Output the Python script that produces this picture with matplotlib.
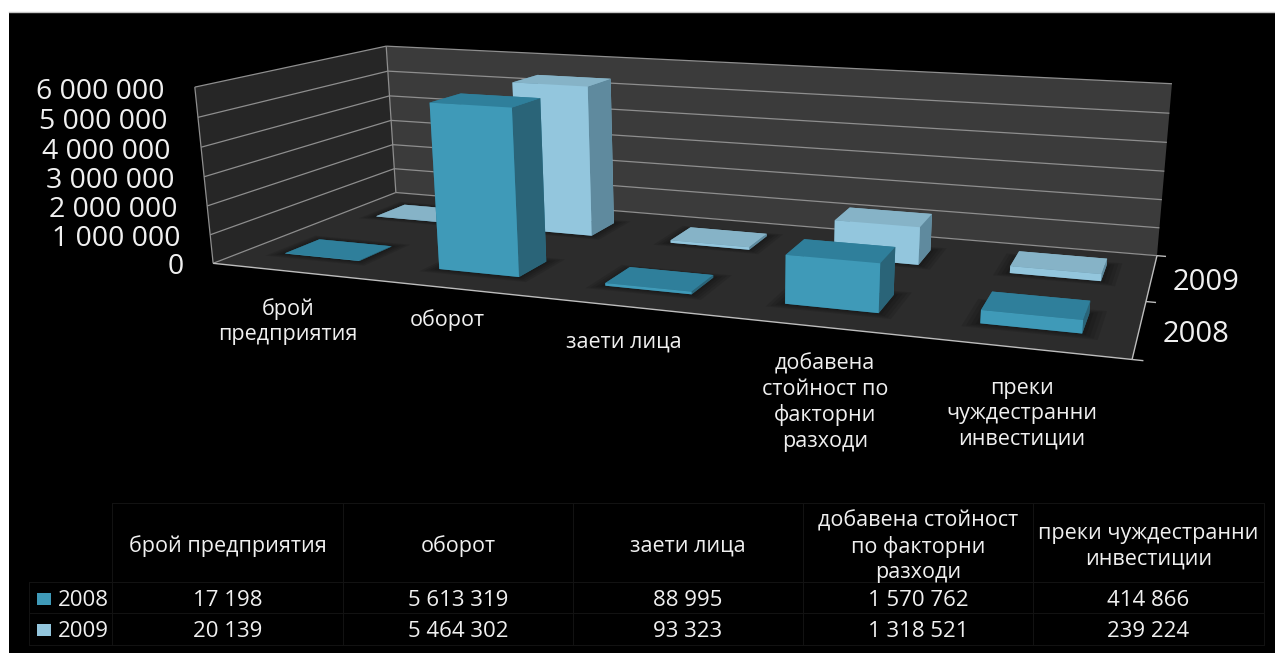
import numpy as np
import matplotlib
matplotlib.use("Agg")
import matplotlib.pyplot as plt
from mpl_toolkits.mplot3d import Axes3D  # noqa
from mpl_toolkits.mplot3d.art3d import Poly3DCollection, Line3DCollection

# ---------- data ----------
categories = ["брой предприятия", "оборот", "заети лица",
              "добавена стойност по факторни разходи", "преки чуждестранни инвестиции"]
axis_labels = ["брой\nпредприятия", "оборот", "заети лица",
               "добавена\nстойност по\nфакторни\nразходи", "преки\nчуждестранни\nинвестиции"]
table_headers = ["брой предприятия", "оборот", "заети лица",
                 "добавена стойност\nпо факторни\nразходи", "преки чуждестранни\nинвестиции"]
series_names = ["2008", "2009"]
values_2008 = [17198, 5613319, 88995, 1570762, 414866]
values_2009 = [20139, 5464302, 93323, 1318521, 239224]
z_ticks = [0, 1000000, 2000000, 3000000, 4000000, 5000000, 6000000]
Z_MAX = 6000000

W, H = 1275, 653
FONT = "Open Sans"
plt.rcParams["font.family"] = [FONT, "DejaVu Sans"]

def fmt(v):
    return f"{v:,}".replace(",", " ")

fig = plt.figure(figsize=(W / 100, H / 100), dpi=100, facecolor="white")

# ---------- flat layer in pixel coordinates: black panel and table ----------
bg = fig.add_axes([0, 0, 1, 1], zorder=0)
bg.set_xlim(0, W)
bg.set_ylim(H, 0)
bg.axis("off")
bg.add_patch(plt.Rectangle((9, 12), W, H, fc="black", ec="none"))
bg.plot([9, W], [12, 12], color="#c4c4c4", lw=1.0)

col_x = [29, 112, 343, 573, 803, 1033, 1264]
row_y = [503, 582, 613, 645]
grid_c = "#121212"
for y in row_y:
    bg.plot([col_x[0] if y != row_y[0] else col_x[1], col_x[-1]], [y, y], color=grid_c, lw=0.8)
for x in col_x:
    bg.plot([x, x], [row_y[0] if x != col_x[0] else row_y[1], row_y[-1]], color=grid_c, lw=0.8)

TXT = "#f0f0f0"
for i, h in enumerate(table_headers):
    bg.text((col_x[i + 1] + col_x[i + 2]) / 2, 546.5, h, color=TXT, fontsize=15.5,
            ha="center", va="center", linespacing=1.25)
for r, (name, vals, fc) in enumerate(zip(series_names, [values_2008, values_2009], ["#3f9ab8", "#93c6dd"])):
    yc = (row_y[r + 1] + row_y[r + 2]) / 2
    bg.add_patch(plt.Rectangle((37, yc - 5), 14, 12, fc=fc, ec="none"))
    bg.text(58, yc + 2.5, name, color=TXT, fontsize=16, ha="left", va="center")
    for i, v in enumerate(vals):
        bg.text((col_x[i + 1] + col_x[i + 2]) / 2, yc + 2.5, fmt(v), color=TXT, fontsize=16,
                ha="center", va="center")

label_xy = [(288, 321.5), (447, 320), (624, 342), (825, 402.5), (1022, 414)]
for s, (x, y) in zip(axis_labels, label_xy):
    bg.text(x, y, s, color=TXT, fontsize=15.5, ha="center", va="center", linespacing=1.27)

# ---------- 3D chart, with a camera fitted to the picture's box corners ----------
ax = fig.add_axes([0, 0, 1, 1], projection="3d", computed_zorder=False, zorder=1)
ax.set_axis_off()
ax.patch.set_visible(False)
ax.apply_aspect = lambda position=None: None

anchors = [((0, 0, 0), (213, 263)), ((1, 0, 0), (1132, 360)), ((0, 1, 0), (396, 193)),
           ((1, 1, 0), (1157, 255)), ((0, 0, 1), (195, 87)), ((0, 1, 1), (386, 46)),
           ((1, 1, 1), (1172, 84))]
A_, b_ = [], []
for (u, v, w), (px, py) in anchors:
    A_.append([u, v, w, 1, 0, 0, 0, 0, -px * u, -px * v, -px * w])
    A_.append([0, 0, 0, 0, u, v, w, 1, -py * u, -py * v, -py * w])
    b_ += [px, py]
sol = np.linalg.lstsq(np.array(A_, float), np.array(b_, float), rcond=None)[0]
P = np.append(sol, 1.0).reshape(3, 4)
NU, NV = len(categories), len(series_names)
P = P @ np.diag([1 / NU, 1 / NV, 1 / Z_MAX, 1.0])
if P[2, 3] < 0:
    P = -P
cam_min = P[2, 3] * 0.2

def project(x, y, z):
    q = P @ np.array([x, y, z, 1.0])
    return q[0] / q[2], q[1] / q[2]

def get_proj():
    inv = ax.transData.inverted()
    o, e = inv.transform([[0, 0], [1, 1]])
    sx, sy = e - o
    row_w = P[2]
    row_x = sx * P[0] + o[0] * row_w
    row_y2 = sy * (H * row_w - P[1]) + o[1] * row_w
    row_z = row_w - np.array([0, 0, 0, cam_min])
    return np.vstack([row_x, row_y2, row_z, row_w])

ax.get_proj = get_proj

def face(verts, color, z):
    ax.add_collection3d(Poly3DCollection([verts], facecolors=color, edgecolors="none", zorder=z))

def lines(segs, color, lw, z=2):
    ax.add_collection3d(Line3DCollection(segs, colors=color, linewidths=lw, zorder=z))

face([(0, 0, 0), (0, NV, 0), (0, NV, Z_MAX), (0, 0, Z_MAX)], "#262626", 1)
face([(0, NV, 0), (NU, NV, 0), (NU, NV, Z_MAX), (0, NV, Z_MAX)], "#3b3b3b", 1)
face([(0, 0, 0), (NU, 0, 0), (NU, NV, 0), (0, NV, 0)], "#2c2c2c", 1)

GRID = "#8e8e8e"
segs = []
for t in z_ticks:
    segs.append([(0, 0, t), (0, NV, t)])
    segs.append([(0, NV, t), (NU, NV, t)])
segs.append([(0, 0, 0), (0, 0, Z_MAX)])
segs.append([(0, NV, 0), (0, NV, Z_MAX)])
lines(segs, GRID, 0.9)
edge = [[(0, 0, 0), (NU, 0, 0)], [(NU, 0, 0), (NU, NV, 0)]]
for j in range(NV + 1):
    edge.append([(NU, j, 0), (NU + 0.05, j, 0)])
lines(edge, "#bdbdbd", 1.0)

for t in z_ticks:
    px, py = project(-0.2, 0, t)
    bg.text(px, py + 7, fmt(t), color=TXT, fontsize=20.5, ha="right", va="center")
for j, name in enumerate(series_names):
    px, py = project(NU + 0.11, j + 0.5, 0)
    bg.text(px, py + 3, name, color=TXT, fontsize=21, ha="left", va="center")

# bars: faces in order -Z, +Z, -Y, +Y, -X, +X
BAR_W, BAR_D = 0.49, 0.35
styles = [["#2a6a80", "#2f7f9b", "#3f9ab8", "#2f7f9b", "#2a6a80", "#2a6478"],
          ["#5f8a9e", "#86b3c7", "#93c6dd", "#86b3c7", "#5f8a9e", "#5f8a9e"]]
rows = [values_2008, values_2009]
for j in (1, 0):
    y0 = j + (1 - BAR_D) / 2
    for i, val in enumerate(rows[j]):
        x0 = i + (1 - BAR_W) / 2
        for m in (0.08, 0.06, 0.04, 0.02):
            sh = [(x0 - m, y0 - m, 0), (x0 + BAR_W + m, y0 - m, 0),
                  (x0 + BAR_W + m, y0 + BAR_D + m, 0), (x0 - m, y0 + BAR_D + m, 0)]
            ax.add_collection3d(Poly3DCollection([sh], facecolors=(0, 0, 0, 0.1),
                                                 edgecolors="none", zorder=3))
        ax.bar3d(x0, y0, 0, BAR_W, BAR_D, val, color=styles[j], shade=False,
                 edgecolor="none", zorder=5 - j)

ax.autoscale(False)
fig.savefig("out.png", dpi=100, facecolor="white")
